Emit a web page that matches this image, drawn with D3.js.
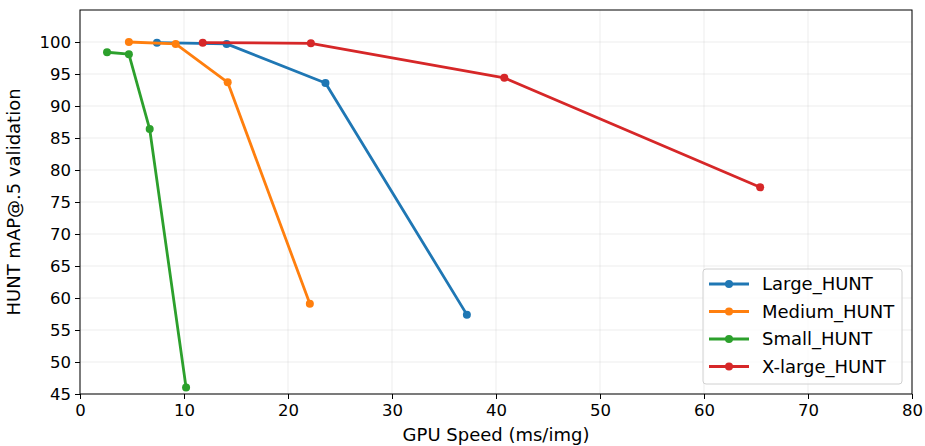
<!DOCTYPE html>
<html>
<head>
<meta charset="utf-8">
<script src="https://cdn.jsdelivr.net/npm/d3@7"></script>
<style>
  body { margin: 0; background: #fff; }
  text { font-family: "DejaVu Sans", sans-serif; fill: #000; }
</style>
</head>
<body>
<div id="chart"></div>
<script>
// Data
const seriesNames = ["Large_HUNT", "Medium_HUNT", "Small_HUNT", "X-large_HUNT"];
const seriesColors = ["#1f77b4", "#ff7f0e", "#2ca02c", "#d62728"];
const largeSpeed = [7.4, 14.1, 23.6, 37.2];
const largeMap = [99.9, 99.7, 93.6, 57.4];
const mediumSpeed = [4.7, 9.2, 14.2, 22.1];
const mediumMap = [100.0, 99.7, 93.7, 59.1];
const smallSpeed = [2.6, 4.7, 6.7, 10.2];
const smallMap = [98.4, 98.1, 86.4, 46.0];
const xlargeSpeed = [11.8, 22.2, 40.8, 65.4];
const xlargeMap = [99.9, 99.8, 94.4, 77.3];
const xTicks = [0, 10, 20, 30, 40, 50, 60, 70, 80];
const yTicks = [45, 50, 55, 60, 65, 70, 75, 80, 85, 90, 95, 100];

const series = [
  [largeSpeed, largeMap],
  [mediumSpeed, mediumMap],
  [smallSpeed, smallMap],
  [xlargeSpeed, xlargeMap]
].map((s, i) => ({
  name: seriesNames[i],
  color: seriesColors[i],
  values: s[0].map((x, j) => ({ x: x, y: s[1][j] }))
}));

const W = 925, H = 446;
const margin = { top: 10, right: 13, bottom: 52, left: 80 },
    width = W - margin.left - margin.right,
    height = H - margin.top - margin.bottom;

const svg = d3.select("#chart")
    .append("svg")
    .attr("width", W)
    .attr("height", H)
    .append("g")
    .attr("transform", `translate(${margin.left},${margin.top})`);

const x = d3.scaleLinear().domain([0, 80]).range([0, width]);
const y = d3.scaleLinear().domain([45, 105]).range([height, 0]);

// grid
svg.append("g")
    .selectAll("line")
    .data(xTicks)
    .enter().append("line")
    .attr("x1", d => x(d)).attr("x2", d => x(d))
    .attr("y1", 0).attr("y2", height)
    .attr("stroke", "#b0b0b0").attr("stroke-opacity", 0.3).attr("stroke-width", 0.8);
svg.append("g")
    .selectAll("line")
    .data(yTicks)
    .enter().append("line")
    .attr("x1", 0).attr("x2", width)
    .attr("y1", d => y(d)).attr("y2", d => y(d))
    .attr("stroke", "#b0b0b0").attr("stroke-opacity", 0.3).attr("stroke-width", 0.8);

// axes
const xAxis = svg.append("g")
    .attr("transform", `translate(0, ${height})`)
    .call(d3.axisBottom(x).tickValues(xTicks).tickSize(5).tickPadding(5));
const yAxis = svg.append("g")
    .call(d3.axisLeft(y).tickValues(yTicks).tickSize(5).tickPadding(4));
[xAxis, yAxis].forEach(a => {
  a.select(".domain").remove();
  a.selectAll("line").attr("stroke", "#000").attr("stroke-width", 1);
  a.selectAll("text").attr("font-size", 16.5).attr("font-family", "DejaVu Sans");
});

// frame
svg.append("rect")
    .attr("width", width).attr("height", height)
    .attr("fill", "none").attr("stroke", "#000").attr("stroke-width", 1);

// lines and points
const line = d3.line().x(d => x(d.x)).y(d => y(d.y));
series.forEach(s => {
  svg.append("path")
      .datum(s.values)
      .attr("fill", "none")
      .attr("stroke", s.color)
      .attr("stroke-width", 2.8)
      .attr("stroke-linejoin", "round")
      .attr("d", line);
  svg.selectAll(null)
      .data(s.values)
      .enter().append("circle")
      .attr("cx", d => x(d.x))
      .attr("cy", d => y(d.y))
      .attr("r", 4)
      .attr("fill", s.color);
});

// axis labels
svg.append("text")
    .attr("x", width / 2)
    .attr("y", height + 47)
    .attr("text-anchor", "middle")
    .attr("font-size", 18)
    .text("GPU Speed (ms/img)");
svg.append("text")
    .attr("transform", `translate(${-60},${height / 2}) rotate(-90)`)
    .attr("text-anchor", "middle")
    .attr("font-size", 18)
    .text("HUNT mAP@.5 validation");

// legend
const lx = 623, ly = 259;
svg.append("rect")
    .attr("x", lx).attr("y", ly)
    .attr("width", 199).attr("height", 115)
    .attr("rx", 3)
    .attr("fill", "#fff").attr("fill-opacity", 0.8)
    .attr("stroke", "#d0d0d0").attr("stroke-width", 1);
const legend = svg.append("g")
    .selectAll("g")
    .data(series)
    .enter().append("g")
    .attr("transform", (d, i) => `translate(${lx + 6},${ly + 15 + i * 27.5})`);
legend.append("line")
    .attr("x1", 0).attr("x2", 40)
    .attr("stroke", d => d.color).attr("stroke-width", 2.8);
legend.append("circle")
    .attr("cx", 20).attr("r", 4)
    .attr("fill", d => d.color);
legend.append("text")
    .attr("x", 53)
    .attr("dy", "0.35em")
    .attr("font-size", 18)
    .text(d => d.name);
</script>
</body>
</html>
